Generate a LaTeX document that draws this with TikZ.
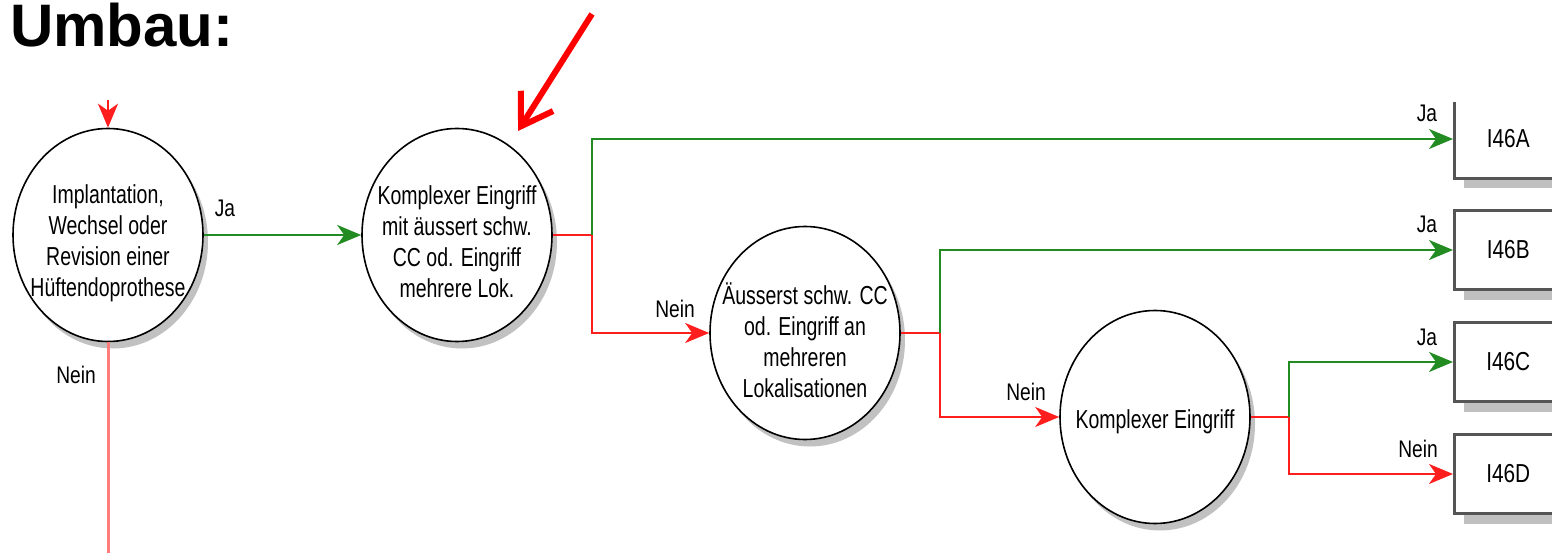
\documentclass[tikz,border=0pt]{standalone}
\usepackage{fontspec}
\setmainfont{Liberation Sans}
\newfontfamily\narrowsans[FakeStretch=0.75]{Liberation Sans}
\newfontfamily\labelsans[FakeStretch=0.8]{Liberation Sans}
\usetikzlibrary{shapes.geometric,arrows.meta,shadows}
\definecolor{flowgreen}{RGB}{34,140,34}
\definecolor{flowred}{RGB}{255,30,30}
\definecolor{palered}{RGB}{255,125,125}
\definecolor{boxedge}{RGB}{85,85,85}
\definecolor{boxshade}{RGB}{192,192,192}
\begin{document}
\begin{tikzpicture}[x=1pt,y=-1pt,
  decision/.style={ellipse, draw=black, line width=1.6pt, fill=white,
    minimum width=190pt, minimum height=213pt, inner sep=0pt,
    drop shadow={shadow xshift=5pt, shadow yshift=-7pt, fill=black!40, opacity=.6}},
  question/.style={inner sep=0pt, align=center,
    font=\narrowsans\fontsize{26}{31}\selectfont},
  result/.style={rectangle, draw=boxedge, line width=2.5pt, fill=white,
    minimum width=108pt, minimum height=79pt, anchor=west,
    font=\labelsans\fontsize{26}{30}\selectfont,
    drop shadow={shadow xshift=10pt, shadow yshift=-10pt, fill=boxshade, opacity=1}},
  yes/.style={draw=flowgreen, line width=2pt},
  no/.style={draw=flowred, line width=2pt},
  tip/.style={-{Stealth[length=24pt,width=20pt,inset=7pt]}},
  answer/.style={anchor=base, inner sep=0pt, font=\labelsans\fontsize{24}{28}\selectfont}
]
\fill[white] (0,0) rectangle (1552,553);
\useasboundingbox (0,0) rectangle (1552,553);

% heading
\node[anchor=base west, inner sep=0pt, font=\bfseries\fontsize{60}{62}\selectfont] (title) at (10,47) {Umbau:};

% decision nodes
\node[decision] (c1) at (108,235) {};
\node[decision] (c2) at (457,235) {};
\node[decision] (c3) at (805,333) {};
\node[decision] (c4) at (1155,417) {};
\node[question] (q1) at (108,243) {Implantation,\\Wechsel oder\\Revision einer\\Hüftendoprothese};
\node[question] (q2) at (457,242) {Komplexer Eingriff\\mit äussert schw.\\CC od. Eingriff\\mehrere Lok.};
\node[question] (q3) at (805,340) {Äusserst schw. CC\\od. Eingriff an\\mehreren\\Lokalisationen};
\node[question] (q4) at (1155,422) {Komplexer Eingriff};

% result boxes
\begin{scope}
  \clip (1430,103) rectangle (1560,200);
  \node[result] (A) at (1453,139) {I46A\hspace{8pt}};
\end{scope}
\node[result] (B) at (1453,250) {I46B\hspace{8pt}};
\node[result] (C) at (1453,362) {I46C\hspace{8pt}};
\node[result] (D) at (1453,474) {I46D\hspace{8pt}};

% entry and exit of the first decision
\coordinate (entry) at (108,100);
\coordinate (exit) at (108,560);
\draw[no, tip] (entry) -- (c1.north);
\draw[draw=palered, line width=3pt] (c1.south) -- (exit);

% branches
\draw[yes, tip] (c1.east) -- (c2.west);
\coordinate (j1) at (592,235);
\coordinate (j2) at (940,333);
\coordinate (j3) at (1289,417);
\draw[no] (c2.east) -- (j1);
\draw[yes, tip] (j1) |- (A.west);
\draw[no, tip] (j1) |- (c3.west);
\draw[no] (c3.east) -- (j2);
\draw[yes, tip] (j2) |- (B.west);
\draw[no, tip] (j2) |- (c4.west);
\draw[no] (c4.east) -- (j3);
\draw[yes, tip] (j3) |- (C.west);
\draw[no, tip] (j3) |- (D.west);

% branch labels
\node[answer] (l1) at (225,217) {Ja};
\node[answer] (l2) at (76,383) {Nein};
\node[answer] (l3) at (675,317) {Nein};
\node[answer] (l4) at (1026,400) {Nein};
\node[answer] (l5) at (1427,122) {Ja};
\node[answer] (l6) at (1427,233) {Ja};
\node[answer] (l7) at (1427,345) {Ja};
\node[answer] (l8) at (1418,457) {Nein};

% highlighting pointer
\coordinate (pointerstart) at (592,14);
\coordinate (pointertip) at (518,131);
\draw[red, line width=6pt, -{Straight Barb[length=30pt,width=38pt]}] (pointerstart) -- (pointertip);
\end{tikzpicture}
\end{document}
